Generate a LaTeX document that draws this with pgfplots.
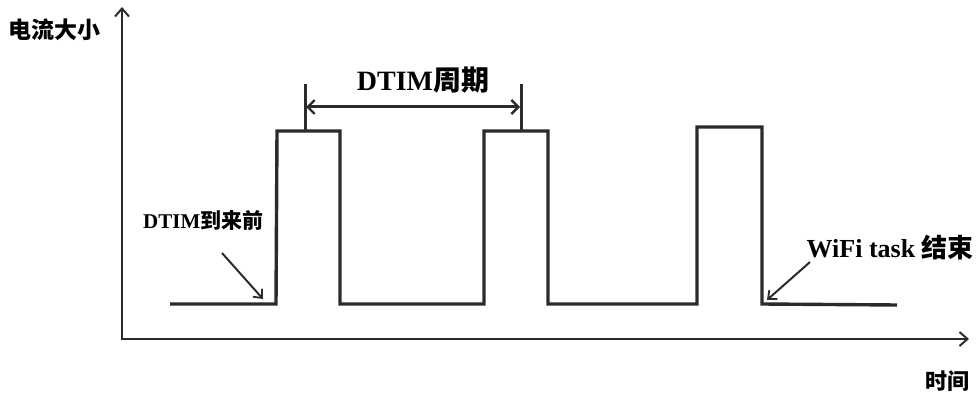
\documentclass[border=0pt]{standalone}
\usepackage{pgfplots}
\pgfplotsset{compat=1.18}
\usetikzlibrary{arrows.meta}
\usepackage{fontspec}
\setmainfont{Liberation Serif}
\newfontfamily\cjk{Noto Sans CJK SC}
\definecolor{ink}{HTML}{2B2B2B}

\begin{document}
\begin{tikzpicture}
\begin{axis}[
    width=979pt, height=394pt,
    scale only axis,
    xmin=0, xmax=979,
    ymin=0, ymax=394,
    hide axis,
    clip=false,
]
% frame that fixes the picture's size
\path (axis cs:0,0) rectangle (axis cs:979,394);

% axes
\addplot[ink, line width=2.4pt, -{Straight Barb[length=8pt,width=14pt,line width=2pt]}]
    coordinates {(122,54) (122,387)};
\addplot[ink, line width=2.4pt, -{Straight Barb[length=8pt,width=14pt,line width=2pt]}]
    coordinates {(121,55) (969,55)};

% current waveform
\addplot[ink, line width=3.4pt, line join=miter] coordinates {
    (170,90) (276,90) (277,263) (340,263) (340,90)
    (484,90) (484,263) (548,263) (548,90)
    (697,90) (697,267) (762,267) (762,90) (897,89)
};

% DTIM period marks
\addplot[ink, line width=3pt] coordinates {(305,263) (305,310)};
\addplot[ink, line width=3pt] coordinates {(521,263) (521,310)};
\addplot[ink, line width=3pt, {Straight Barb[length=7pt,width=14pt,line width=2.4pt]}-{Straight Barb[length=7pt,width=14pt,line width=2.4pt]}]
    coordinates {(306,287) (520,287)};

% annotation arrows
\addplot[ink, line width=2pt, -{Straight Barb[length=7pt,width=12pt,line width=1.8pt]}]
    coordinates {(222,141) (263,95)};
\addplot[ink, line width=2pt, -{Straight Barb[length=7pt,width=12pt,line width=1.8pt]}]
    coordinates {(810,132) (767,94)};

% labels
\begin{scope}[every node/.style={inner sep=0pt, text=black}]
\node[anchor=west] at (axis cs:8,364) {\cjk\bfseries\fontsize{23}{25}\selectfont 电流大小};
\node[anchor=east] at (axis cs:970,13) {\cjk\bfseries\fontsize{22}{24}\selectfont 时间};
\node at (axis cs:423,314) {\bfseries\fontsize{28}{30}\selectfont DTIM{\cjk 周期}};
\node[anchor=west] at (axis cs:143,174) {\bfseries\fontsize{21}{23}\selectfont DTIM{\cjk 到来前}};
\node[anchor=east] at (axis cs:974,146) {\bfseries\fontsize{26}{28}\selectfont WiFi task {\cjk 结束}};
\end{scope}
\end{axis}
\end{tikzpicture}
\end{document}
